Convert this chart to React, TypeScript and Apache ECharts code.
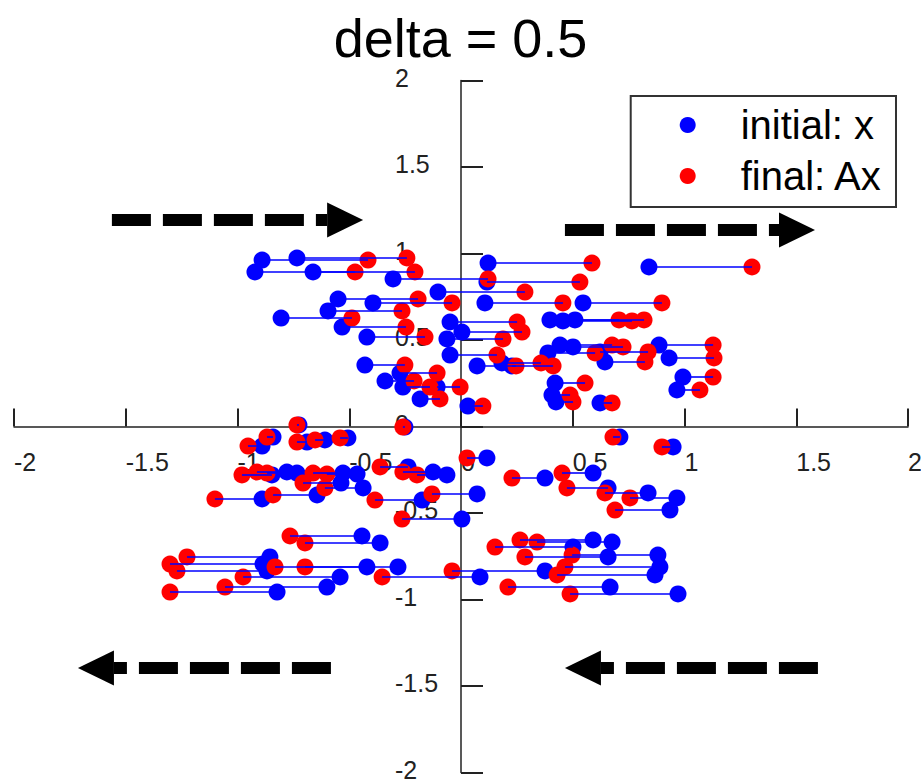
import React, { useEffect, useRef } from "react";
import * as echarts from "echarts";

// y of each point (unchanged by the shear)
const pointY = [
  0.962, 0.974, 0.893, 0.893, 0.853, 0.835, 0.945, 0.922, 0.777, 0.737,
  0.714, 0.714, 0.714, 0.668, 0.627, 0.575, 0.517, 0.616, 0.61, 0.616,
  0.604, 0.546, 0.506, 0.413, 0.35, 0.367, 0.35, 0.471, 0.46, 0.425,
  0.373, 0.431, 0.471, 0.396, 0.286, 0.211, 0.136, 0.251, 0.182, 0.142,
  0.118, 0.228, 0.355, 0.263, 0.309, 0.228, 0.159,
  -0.061, -0.113, -0.09, 0.009, -0.078, -0.066, -0.28, -0.263, -0.269,
  -0.269, -0.275, -0.234, -0.263, -0.28, -0.327, -0.355, -0.396, -0.419,
  -0.425, -0.39, -0.535, -0.633, -0.673, -0.754, -0.795, -0.835, -0.812,
  -0.812, -0.87, -0.928, -0.957, -0.87, -0.835, -0.182, -0.298, -0.269,
  -0.355, -0.384, -0.483, -0.413, -0.061, -0.118, -0.656, -0.668, -0.697,
  -0.754, -0.743, -0.812, -0.858, -0.928, -0.968, -0.003,
];

// initial points x
const initialX = [
  -0.89, -0.734, -0.922, -0.662, -0.304, 0.116, 0.121, 0.841, -0.103, -0.55,
  -0.394, 0.107, 0.546, -0.595, -0.805, -0.532, -0.421, 0.398, 0.456, 0.51,
  -0.049, 0.004, -0.063, -0.049, 0.072, 0.183, 0.228, 0.443, 0.501, 0.389,
  0.644, 0.622, 0.886, 0.931, 0.993, 0.966, 0.622, 0.421, 0.407, 0.425,
  0.031, -0.107, -0.43, -0.34, -0.273, -0.26, -0.183,
  -0.841, -0.89, -0.689, -0.725, -0.609, -0.506, -0.846, -0.779, -0.734,
  -0.528, -0.465, -0.237, -0.125, -0.063, -0.537, -0.438, -0.644, -0.89,
  -0.174, 0.072, 0.004, -0.443, -0.362, -0.855, -0.886, -0.868, -0.421,
  -0.282, -0.541, -0.6, -0.823, 0.085, 0.376, 0.116, 0.376, 0.591,
  0.658, 0.837, 0.935, 0.966, 0.711, 0.949, 0.591, 0.676, 0.501,
  0.658, 0.881, 0.89, 0.868, 0.667, 0.971, -0.251,
];

// final points Ax, x coordinate
const finalX = [
  -0.416, -0.242, -0.474, -0.206, 0.121, 0.532, 0.586, 1.302, 0.286, -0.192,
  -0.04, 0.456, 0.899, -0.264, -0.488, -0.246, -0.161, 0.707, 0.765, 0.819,
  0.251, 0.273, 0.188, 0.161, 0.246, 0.358, 0.412, 0.676, 0.725, 0.6,
  0.823, 0.837, 1.128, 1.132, 1.128, 1.069, 0.676, 0.555, 0.488, 0.501,
  0.098, -0.004, -0.251, -0.21, -0.107, -0.139, -0.094,
  -0.868, -0.953, -0.734, -0.734, -0.653, -0.541, -0.98, -0.913, -0.868,
  -0.662, -0.6, -0.362, -0.26, -0.197, -0.707, -0.609, -0.841, -1.101,
  -0.385, -0.13, -0.264, -0.765, -0.698, -1.226, -1.302, -1.271, -0.832,
  -0.698, -0.975, -1.056, -1.302, -0.353, -0.04, 0.027, 0.228, 0.452,
  0.474, 0.644, 0.689, 0.756, 0.68, 0.899, 0.264, 0.34, 0.152,
  0.286, 0.497, 0.465, 0.43, 0.21, 0.488, -0.26,
];

// annotation arrows (data coordinates)
const arrowTailX = [-1.562, 0.465, -0.582, 1.597];
const arrowTipX = [-0.438, 1.584, -1.714, 0.465];
const arrowY = [1.194, 1.136, -1.396, -1.396];

const tickValues = [-2, -1.5, -1, -0.5, 0, 0.5, 1, 1.5, 2];
const tickLabels = ["-2", "-1.5", "-1", "-0.5", "0", "0.5", "1", "1.5", "2"];

const titleText = "delta = 0.5";
const seriesNames = ["initial: x", "final: Ax"];

const FONT = "'Liberation Sans', Arial, Helvetica, sans-serif";

function fmt(v: number) {
  const i = tickValues.findIndex((t) => Math.abs(t - v) < 1e-9);
  return i >= 0 ? tickLabels[i] : String(v);
}

const GRID = { left: 14, right: 13, top: 80.5, bottom: 11.5 };
const W = 921;
const H = 784;

export default function App() {
  const ref = useRef<HTMLDivElement>(null);

  useEffect(() => {
    if (!ref.current) return;
    const chart = echarts.init(ref.current, undefined, { renderer: "svg" });

    const blueData = initialX.map((x, i) => [x, pointY[i]]);
    const redData = finalX.map((x, i) => [x, pointY[i]]);
    const linkData = initialX.map((x, i) => ({
      coords: [
        [x, pointY[i]],
        [finalX[i], pointY[i]],
      ],
    }));
    const arrowData = arrowTailX.map((t, i) => [t, arrowTipX[i], arrowY[i]]);

    // position of the zero lines inside the grid (axes cross at the origin)
    const plotW = W - GRID.left - GRID.right;
    const plotH = H - GRID.top - GRID.bottom;
    const zeroXpx = GRID.left + plotW / 2;
    const zeroYpx = GRID.top + plotH / 2;
    const gridBottomPx = H - GRID.bottom;

    const axisCommon = {
      type: "value" as const,
      min: -2,
      max: 2,
      interval: 0.5,
      splitLine: { show: false },
      axisLine: { onZero: true, lineStyle: { color: "#222", width: 1.5 } },
    };

    chart.setOption({
      animation: false,
      backgroundColor: "#ffffff",
      title: {
        text: titleText,
        left: "center",
        top: 18,
        padding: 0,
        textStyle: {
          fontFamily: FONT,
          fontSize: 54,
          lineHeight: 40,
          fontWeight: "normal",
          color: "#000",
        },
      },
      legend: {
        orient: "vertical",
        right: 25,
        top: 96,
        data: [
          { name: seriesNames[0], icon: "circle" },
          { name: seriesNames[1], icon: "circle" },
        ],
        itemWidth: 16,
        itemHeight: 16,
        itemGap: 11,
        padding: [9, 13, 11, 49],
        borderColor: "#333",
        borderWidth: 2,
        backgroundColor: "#fff",
        textStyle: {
          fontFamily: FONT,
          fontSize: 40,
          color: "#000",
          lineHeight: 40,
          padding: [0, 0, 0, 40],
        },
      },
      grid: {
        ...GRID,
        containLabel: false,
        outerBoundsMode: "none",
      },
      xAxis: {
        ...axisCommon,
        axisTick: { inside: true, length: 18, lineStyle: { color: "#222", width: 2 } },
        axisLabel: {
          align: "left",
          verticalAlign: "middle",
          // labels sit 35px below the zero line
          margin: -(gridBottomPx - zeroYpx - 35),
          fontFamily: FONT,
          fontSize: 25,
          lineHeight: 20,
          color: "#222",
          formatter: (v: number) => fmt(v),
        },
      },
      yAxis: {
        ...axisCommon,
        axisTick: { inside: true, length: 22, lineStyle: { color: "#222", width: 2 } },
        axisLabel: {
          align: "left",
          verticalAlign: "bottom",
          // labels start 66px left of the zero line, centred ~3px above the tick
          margin: -(zeroXpx - 66 - GRID.left),
          fontFamily: FONT,
          fontSize: 25,
          lineHeight: 6,
          color: "#222",
          formatter: (v: number) => fmt(v),
        },
      },
      series: [
        {
          name: seriesNames[0],
          type: "scatter",
          data: blueData,
          symbol: "circle",
          symbolSize: 17,
          itemStyle: { color: "#0000ff", opacity: 1 },
          z: 2,
        },
        {
          name: seriesNames[1],
          type: "scatter",
          data: redData,
          symbol: "circle",
          symbolSize: 17,
          itemStyle: { color: "#ff0000", opacity: 1 },
          z: 3,
        },
        {
          type: "lines",
          coordinateSystem: "cartesian2d",
          data: linkData,
          lineStyle: { color: "#0000ff", width: 1.6, opacity: 1 },
          z: 4,
          silent: true,
        },
        {
          type: "custom",
          data: arrowData,
          encode: { x: [0, 1], y: 2 },
          clip: false,
          z: 5,
          silent: true,
          renderItem: (params: any, api: any) => {
            const tail = api.coord([api.value(0), api.value(2)]);
            const tip = api.coord([api.value(1), api.value(2)]);
            const dir = Math.sign(tip[0] - tail[0]);
            const headLen = 36;
            const headHalf = 17.5;
            const base = tip[0] - dir * headLen;
            return {
              type: "group",
              children: [
                {
                  type: "line",
                  shape: { x1: tail[0], y1: tail[1], x2: base, y2: tail[1] },
                  style: { stroke: "#000", lineWidth: 12, lineDash: [39, 12], lineCap: "butt" },
                },
                {
                  type: "polygon",
                  shape: {
                    points: [
                      [tip[0], tip[1]],
                      [base, tip[1] - headHalf],
                      [base, tip[1] + headHalf],
                    ],
                  },
                  style: { fill: "#000" },
                },
              ],
            };
          },
        },
      ],
    });

    return () => chart.dispose();
  }, []);

  return (
    <div
      ref={ref}
      style={{ position: "fixed", left: 0, top: 0, width: W, height: H, background: "#fff" }}
    />
  );
}
